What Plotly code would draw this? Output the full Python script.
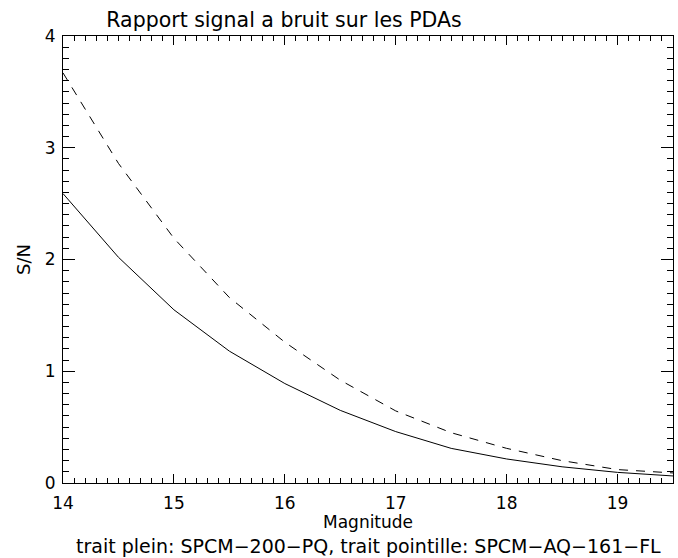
import plotly.graph_objects as go

# Magnitude grid and signal-to-noise values for both detectors
magnitude = [14.0, 14.5, 15.0, 15.5, 16.0, 16.5, 17.0, 17.5, 18.0, 18.5, 19.0, 19.5]
sn_spcm_200_pq = [2.59, 2.02, 1.55, 1.18, 0.89, 0.65, 0.46, 0.31, 0.215, 0.145, 0.095, 0.063]
sn_spcm_aq_161_fl = [3.67, 2.86, 2.19, 1.66, 1.26, 0.92, 0.645, 0.45, 0.31, 0.20, 0.12, 0.09]

x_tick_start, x_tick_step = 14, 1
y_tick_start, y_tick_step = 0, 1

FONT = "DejaVu Sans"
W, H = 678, 558
MARGIN = dict(l=63, r=5, t=36, b=75)

fig = go.Figure()
fig.add_trace(go.Scatter(x=magnitude, y=sn_spcm_200_pq, mode="lines",
                         line=dict(color="black", width=1), name="SPCM-200-PQ"))
fig.add_trace(go.Scatter(x=magnitude, y=sn_spcm_aq_161_fl, mode="lines",
                         line=dict(color="black", width=1, dash="9px,8px"),
                         name="SPCM-AQ-161-FL"))

axis_common = dict(
    showgrid=False, zeroline=False, showline=True, linecolor="black", linewidth=1,
    mirror="ticks", ticks="inside", tickcolor="black", tickwidth=1,
    tickfont=dict(family=FONT, size=17, color="black"), automargin=False,
)

fig.update_xaxes(
    range=[14, 19.5], tickmode="linear", tick0=x_tick_start, dtick=x_tick_step,
    ticklen=9, ticklabelstandoff=5,
    minor=dict(dtick=0.1, tick0=14, ticks="inside", ticklen=5, tickcolor="black",
               tickwidth=1, showgrid=False),
    **axis_common,
)
fig.update_yaxes(
    range=[0, 4], tickmode="linear", tick0=y_tick_start, dtick=y_tick_step,
    ticklen=12, ticklabelstandoff=3,
    minor=dict(dtick=0.1, tick0=0, ticks="inside", ticklen=6, tickcolor="black",
               tickwidth=1, showgrid=False),
    title=dict(text="S/N", font=dict(family=FONT, size=18, color="black"), standoff=9),
    **axis_common,
)

# axis caption and detector key below the plot
fig.add_annotation(text="Magnitude", xref="paper", yref="paper", x=0.5, y=0,
                   xanchor="center", yanchor="middle", yshift=-39, showarrow=False,
                   font=dict(family=FONT, size=17, color="black"))
fig.add_annotation(text="trait plein: SPCM\u2212200\u2212PQ, trait pointille: SPCM\u2212AQ\u2212161\u2212FL",
                   xref="paper", yref="paper", x=0.5, y=0,
                   xanchor="center", yanchor="middle", yshift=-63, showarrow=False,
                   font=dict(family=FONT, size=19, color="black"))

fig.update_layout(
    width=W, height=H,
    margin=MARGIN,
    paper_bgcolor="white", plot_bgcolor="white",
    showlegend=False,
    title=dict(text="Rapport signal a bruit sur les PDAs", xref="container", yref="container",
               x=284 / W, xanchor="center", y=1 - 20 / H, yanchor="middle",
               font=dict(family=FONT, size=20.5, color="black")),
)

fig.write_html("out.html")
